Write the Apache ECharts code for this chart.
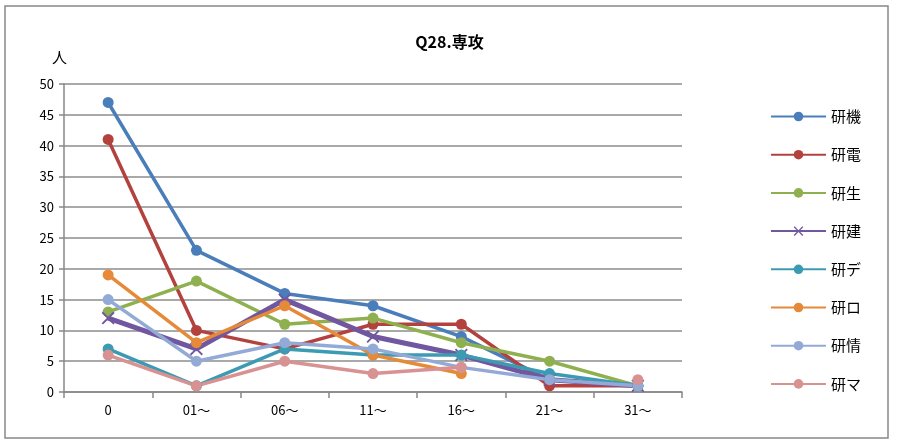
<!DOCTYPE html>
<html style="height: 100%">
  <head>
    <meta charset="UTF-8">
  </head>
  <body style="height: 100%; margin: 0; background: #fff">
    <div id="container" style="width: 899px; height: 441px"></div>
    <script src="https://fastly.jsdelivr.net/npm/echarts@6/dist/echarts.min.js"></script>
    <script>
    var categories = ['0', '01〜', '06〜', '11〜', '16〜', '21〜', '31〜'];
    var seriesNames = ['研機', '研電', '研生', '研建', '研デ', '研ロ', '研情', '研マ'];
    var kenki  = [47, 23, 16, 14, 9, 2, 1];
    var kenden = [41, 10, 7, 11, 11, 1, 1];
    var kensei = [13, 18, 11, 12, 8, 5, 1];
    var kenken = [12, 7, 15, 9, 6, 2, 1];
    var kende  = [7, 1, 7, 6, 6, 3, 1];
    var kenro  = [19, 8, 14, 6, 3, null, null];
    var kenjo  = [15, 5, 8, 7, 4, 2, 1];
    var kenma  = [6, 1, 5, 3, 4, null, 2];
    var allData = [kenki, kenden, kensei, kenken, kende, kenro, kenjo, kenma];
    var colors = ['#4a7ebb', '#b3423f', '#8fb04f', '#7157a0', '#3c9bb2', '#e68a3a', '#93aad6', '#d89291'];

    var font = '"Noto Sans CJK JP", "Liberation Sans", sans-serif';

    var dom = document.getElementById('container');
    var myChart = echarts.init(dom, null, { renderer: 'canvas' });

    var series = seriesNames.map(function (name, i) {
      var isX = i === 3;
      return {
        name: name,
        type: 'line',
        data: allData[i],
        symbol: isX ? 'path://M1,0L5,4L9,0L10,1L6,5L10,9L9,10L5,6L1,10L0,9L4,5L0,1Z' : 'circle',
        symbolSize: isX ? 13 : 11,
        showAllSymbol: true,
        lineStyle: { color: colors[i], width: isX ? 5 : 3.5 },
        itemStyle: { color: colors[i] },
        emphasis: { disabled: true }
      };
    });

    var option = {
      animation: false,
      textStyle: { fontFamily: font },
      color: colors,
      graphic: [
        {
          type: 'rect',
          shape: { x: 5, y: 6, width: 883, height: 432 },
          style: { fill: 'none', stroke: '#888', lineWidth: 1.5 },
          silent: true
        },
        {
          type: 'text',
          left: 52, top: 50,
          style: { text: '人', font: '15px ' + font, fill: '#000' }
        }
      ],
      title: {
        text: 'Q28.専攻',
        left: 'center',
        top: 29,
        textStyle: { fontSize: 16, fontWeight: 'bold', color: '#000', fontFamily: font }
      },
      legend: {
        orient: 'vertical',
        left: 765,
        top: 104,
        itemWidth: 55,
        itemHeight: 12,
        itemGap: 23.2,
        textStyle: { fontSize: 15, color: '#000' },
        data: seriesNames
      },
      grid: { left: 64, right: 217, top: 84, bottom: 49 },
      xAxis: {
        type: 'category',
        data: categories,
        boundaryGap: true,
        axisLine: { lineStyle: { color: '#888', width: 1.5 } },
        axisTick: { show: true, length: 6, lineStyle: { color: '#888', width: 1.5 } },
        axisLabel: { color: '#000', fontSize: 13, margin: 12 }
      },
      yAxis: {
        type: 'value',
        min: 0,
        max: 50,
        interval: 5,
        axisLine: { show: true, lineStyle: { color: '#888', width: 1.5 } },
        axisTick: { show: true, length: 5, lineStyle: { color: '#888', width: 1.5 } },
        axisLabel: { color: '#000', fontSize: 13, margin: 10 },
        splitLine: { lineStyle: { color: '#8c8c8c', width: 1.5 } }
      },
      series: series
    };

    myChart.setOption(option);
    window.addEventListener('resize', myChart.resize);
    </script>
  </body>
</html>
